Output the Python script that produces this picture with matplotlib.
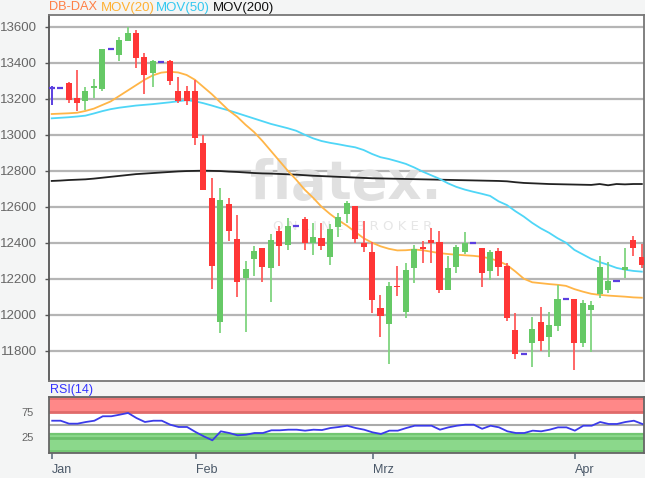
import matplotlib
matplotlib.use('Agg')
import matplotlib.pyplot as plt

plt.rcParams['font.family'] = ['Liberation Sans', 'DejaVu Sans']

# ---------------- data ----------------
opens = [13260, 13260, 13290, 13205, 13185, 13258, 13255, 13475, 13445, 13522,
         13563, 13430, 13345, 13405, 13408, 13245, 13245, 13243, 12952, 12647,
         11958, 12613, 12420, 12202, 12310, 12369, 12258, 12467, 12388, 12493,
         12532, 12397, 12428, 12322, 12489, 12559, 12604, 12400, 12347, 12036,
         11947, 12160, 12017, 12258, 12375, 12413, 12406, 12137, 12263, 12350,
         12400, 12372, 12244, 12354, 12270, 11915, 11782, 11841, 11961, 11878,
         11939, 12087, 12087, 11845, 12026, 12115, 12137, 12185, 12248, 12415,
         12319]
highs = [13268, 13260, 13292, 13360, 13263, 13310, 13478, 13475, 13545, 13600,
         13582, 13452, 13415, 13405, 13415, 13320, 13270, 13305, 12998, 12758,
         12706, 12650, 12554, 12300, 12382, 12369, 12447, 12493, 12539, 12493,
         12545, 12508, 12511, 12504, 12567, 12632, 12604, 12521, 12406, 12109,
         12180, 12270, 12286, 12387, 12411, 12480, 12467, 12326, 12387, 12461,
         12400, 12372, 12359, 12372, 12285, 12008, 11782, 11989, 12044, 12013,
         12165, 12087, 12087, 12081, 12078, 12328, 12294, 12185, 12372, 12437,
         12393]
lows = [13165, 13260, 13178, 13130, 13137, 13205, 13245, 13475, 13412, 13520,
        13370, 13226, 13263, 13405, 13276, 13175, 13165, 12943, 12690, 12141,
        11897, 12410, 12100, 11906, 12217, 12183, 12070, 12273, 12360, 12493,
        12360, 12332, 12360, 12276, 12430, 12508, 12400, 12350, 12011, 11878,
        11726, 12104, 11980, 12178, 12286, 12286, 12119, 12137, 12230, 12337,
        12400, 12155, 12193, 12215, 11967, 11752, 11782, 11708, 11798, 11767,
        11911, 12087, 11693, 11819, 11791, 12091, 12119, 12185, 12202, 12326,
        12258]
closes = [13260, 13260, 13195, 13175, 13245, 13268, 13475, 13475, 13525, 13563,
          13425, 13332, 13410, 13405, 13300, 13190, 13190, 12980, 12693, 12270,
          12637, 12465, 12183, 12254, 12354, 12267, 12415, 12382, 12493, 12493,
          12400, 12434, 12383, 12474, 12545, 12622, 12419, 12375, 12082, 11993,
          12159, 12152, 12249, 12365, 12365, 12398, 12137, 12261, 12374, 12400,
          12400, 12233, 12348, 12263, 11980, 11782, 11782, 11920, 11854, 11943,
          12087, 12087, 11841, 12063, 12054, 12267, 12187, 12185, 12267, 12372,
          12276]

ma20 = [13115, 13117, 13119, 13122, 13132, 13145, 13165, 13185, 13215, 13245,
        13275, 13305, 13330, 13345, 13350, 13346, 13332, 13305, 13265, 13225,
        13180, 13135, 13100, 13055, 13015, 12965, 12910, 12855, 12800, 12750,
        12695, 12650, 12600, 12560, 12525, 12495, 12460, 12425, 12400, 12380,
        12366, 12357, 12358, 12362, 12358, 12350, 12342, 12337, 12333, 12330,
        12327, 12322, 12312, 12298, 12276, 12240, 12200, 12180, 12175, 12170,
        12166, 12160, 12142, 12128, 12116, 12110, 12106, 12103, 12100, 12096,
        12094]
ma50 = [13091, 13094, 13097, 13101, 13106, 13118, 13131, 13142, 13150, 13156,
        13162, 13166, 13170, 13175, 13180, 13186, 13192, 13186, 13175, 13162,
        13148, 13135, 13120, 13105, 13090, 13075, 13060, 13048, 13036, 13022,
        13000, 12980, 12965, 12955, 12947, 12938, 12930, 12915, 12893, 12875,
        12865, 12852, 12838, 12818, 12795, 12775, 12755, 12730, 12710, 12695,
        12683, 12672, 12660, 12630, 12609, 12575, 12545, 12510, 12480, 12455,
        12425, 12400, 12360, 12335, 12310, 12292, 12277, 12260, 12250, 12243,
        12239]
ma200 = [12743, 12745, 12748, 12750, 12752, 12756, 12761, 12766, 12771, 12776,
         12781, 12784, 12787, 12790, 12793, 12796, 12798, 12799, 12800, 12799,
         12798, 12795, 12793, 12790, 12787, 12785, 12784, 12782, 12780, 12778,
         12775, 12772, 12770, 12768, 12766, 12764, 12762, 12760, 12758, 12757,
         12756, 12755, 12754, 12753, 12752, 12751, 12750, 12749, 12748, 12747,
         12746, 12745, 12744, 12743, 12741, 12736, 12732, 12730, 12728, 12726,
         12725, 12724, 12723, 12722, 12721, 12726, 12719, 12726, 12724, 12726,
         12726]
rsi = [57.8, 57.8, 52, 52, 55.3, 57.8, 66.5, 66.5, 69.6, 73,
       63, 55.3, 57.8, 57.8, 50, 45.5, 45.5, 35.7, 27, 19.4,
       37, 33.7, 29.2, 30.4, 33.7, 33.7, 39, 39, 40.2, 40.2,
       38.3, 40.2, 39.5, 43.5, 45.5, 48, 43.5, 40.2, 35, 31.8,
       38.3, 38.3, 43.5, 48, 48, 48, 40.2, 44.8, 48, 50,
       50, 42, 48, 44.8, 37, 33.7, 33.7, 38.3, 37, 40.2,
       44.8, 44.8, 38.3, 48, 48, 55.3, 51.4, 51.4, 55.3, 57.8,
       51.4]

month_labels = ['Jan', 'Feb', 'Mrz', 'Apr']
month_pos = [0, 17, 38, 62]
price_ticks = [11800, 12000, 12200, 12400, 12600, 12800, 13000, 13200, 13400, 13600]
rsi_ticks = [25, 75]

# ---------------- styling ----------------
W, H = 645, 478
BG = '#f4f5f5'
RED = '#ff3636'
RED_W = '#ff5a5a'
GREEN = '#66c966'
GREEN_W = '#7fd47f'
PURPLE = '#5b3fe0'
C20 = '#ffb547'
C50 = '#4fd6f7'
C200 = '#222222'

fig = plt.figure(figsize=(W / 100, H / 100), dpi=100, facecolor=BG)

def frac(x0, y0, x1, y1):
    return [x0 / W, 1 - y1 / H, (x1 - x0) / W, (y1 - y0) / H]

ax = fig.add_axes(frac(48.5, 14.5, 644, 380.7))
ax2 = fig.add_axes(frac(49, 397.3, 644, 453))

n = len(closes)
xs = list(range(n))
bw = 0.72

ax.set_facecolor('white')
ax.set_xlim(-0.38, 70.26)
ax.set_ylim(11633, 13668)
ax.set_axisbelow(True)
ax.yaxis.grid(True, color='#b5b5b5', lw=1.6)
ax.set_yticks(price_ticks)
ax.set_yticklabels([str(v) for v in price_ticks], fontsize=9.5, color='#666666')
ax.tick_params(axis='y', length=3, width=1, color='#555555', pad=5)
ax.set_xticks([])
for s in ax.spines.values():
    s.set_color('#777777')
    s.set_linewidth(1.3)
ax.spines['left'].set_color('#555555')

# watermark
ax.text(346 / W, 1 - 184 / H, 'flatex.', transform=fig.transFigure, fontsize=38,
        fontweight='bold', family='DejaVu Sans', color='#e0e0e0', ha='center',
        va='center', zorder=1)
ax.text(353 / W, 1 - 226 / H, 'O N L I N E   B R O K E R', transform=fig.transFigure,
        fontsize=9.5, family='DejaVu Sans', color='#e6e6e6', ha='center',
        va='center', zorder=1)

# moving averages
ax.plot(xs, ma200, color=C200, lw=1.3, zorder=2)
ax.plot(xs, ma50, color=C50, lw=1.3, zorder=2)
ax.plot(xs, ma20, color=C20, lw=1.3, zorder=2)

# candles
for i in xs:
    o, h, l, c = opens[i], highs[i], lows[i], closes[i]
    if o == c:
        if h > l:
            ax.vlines(i, l, h, color=PURPLE, lw=1.4, zorder=3)
        ax.hlines(c, i - bw / 2, i + bw / 2, color=PURPLE, lw=1.6, zorder=3)
        continue
    up = c > o
    ax.vlines(i, l, h, color=GREEN_W if up else RED_W, lw=1.3, zorder=3)
    ax.bar(i, abs(c - o), bottom=min(o, c), width=bw,
           color=GREEN if up else RED, edgecolor='none', zorder=4)

# ---------------- RSI panel ----------------
ax2.set_facecolor('white')
ax2.set_xlim(-0.38, 70.2)
ylo, yhi = -5.5, 103.7
ax2.set_ylim(ylo, yhi)
ax2.axhspan(75, yhi, color='#ff8888', lw=0, zorder=1)
ax2.axhspan(99.2, yhi, color='#e77272', lw=0, zorder=1)
ax2.axhline(75, color='#e06a6a', lw=2, zorder=1.5)
ax2.axhspan(ylo, 32.4, color='#8bd88b', lw=0, zorder=1)
ax2.axhline(31, color='#72c672', lw=1.6, zorder=1.5)
ax2.axhline(23.5, color='#6cbf6c', lw=2, zorder=1.5)
ax2.axhspan(ylo, 0.8, color='#74c874', lw=0, zorder=1)
ax2.axhline(50, color='#aaaaaa', lw=1.5, zorder=1.5)
ax2.plot(xs, rsi, color='#3b3bea', lw=1.3, zorder=3)

ax2.set_yticks(rsi_ticks)
ax2.set_yticklabels([str(v) for v in rsi_ticks], fontsize=8, color='#666666')
ax2.tick_params(axis='y', length=0, pad=11)
ax2.set_xticks(month_pos)
ax2.set_xticklabels(month_labels, fontsize=9, color='#4a5868')
for lbl in ax2.get_xticklabels():
    lbl.set_horizontalalignment('left')
ax2.tick_params(axis='x', length=4, width=1.2, color='#607080', pad=4)
for s in ax2.spines.values():
    s.set_color('#666666')
    s.set_linewidth(1.3)

# ---------------- header texts ----------------
fig.text(49.3 / W, 1 - 7.5 / H, 'DB-DAX', fontsize=9.2, color='#ff7f45', va='center')
fig.text(100.5 / W, 1 - 7.5 / H, 'MOV(20)', fontsize=9.5, color='#ffb133', va='center')
fig.text(156 / W, 1 - 7.5 / H, 'MOV(50)', fontsize=9.5, color='#33c8f0', va='center')
fig.text(212.7 / W, 1 - 7.5 / H, 'MOV(200)', fontsize=9.5, color='#111111', va='center')
fig.text(50 / W, 1 - 390 / H, 'RSI(14)', fontsize=9, color='#3333ff', va='center')

fig.savefig('out.png', dpi=100, facecolor=BG)
